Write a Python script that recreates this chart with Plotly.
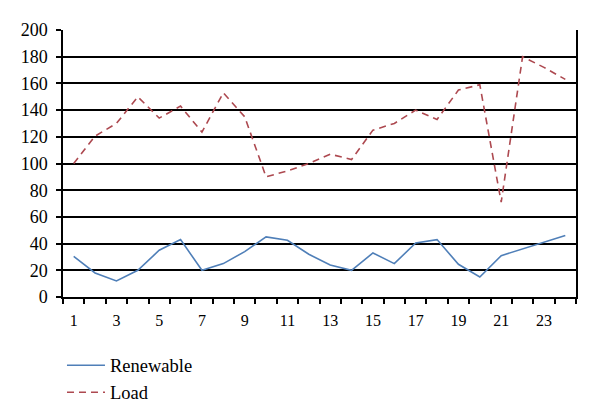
import plotly.graph_objects as go

hours = list(range(1, 25))
renewable = [30.5, 18, 12, 20, 35, 43, 20, 25, 34, 45, 42.5, 32, 24, 20, 33, 25, 40.5, 43, 24.5, 15, 31, 36, 40.5, 46]
load = [100, 120.5, 130, 150, 134, 143, 123.5, 153, 135, 90, 94.5, 100, 107, 103, 125, 130, 140, 133, 155, 159, 71, 180, 172, 163]
x_labels = [str(h) for h in range(1, 24, 2)]

font_family = "Liberation Serif"

fig = go.Figure()
fig.add_trace(go.Scatter(x=hours, y=renewable, mode="lines", name="Renewable",
                         line=dict(color="#4f7fb8", width=1.6)))
fig.add_trace(go.Scatter(x=hours, y=load, mode="lines", name="Load",
                         line=dict(color="#ad4950", width=1.6, dash="7px,5px")))

fig.update_layout(
    width=600, height=420,
    margin=dict(l=55, r=32, t=20, b=131),
    paper_bgcolor="white", plot_bgcolor="white",
    font=dict(family=font_family, size=16, color="black"),
    showlegend=True,
    legend=dict(orientation="v", x=-0.002, xanchor="left", y=-0.186, yanchor="top",
                font=dict(size=18.5, family=font_family), tracegroupgap=0,
                itemwidth=38, bgcolor="rgba(0,0,0,0)"),
    xaxis=dict(range=[0.5, 24.5], tickmode="array", tickvals=[int(t) for t in x_labels],
               ticktext=x_labels, ticks="", showgrid=False, zeroline=False,
               showline=True, linecolor="black", linewidth=1.5,
               tickfont=dict(size=16, family=font_family),
               minor=dict(tickmode="array", tickvals=[i + 0.5 for i in range(0, 25)],
                          ticks="outside", ticklen=5, tickcolor="black", tickwidth=1.5,
                          showgrid=False),
               ticklabelstandoff=8),
    yaxis=dict(range=[0, 200], dtick=20, ticks="outside", ticklen=5, tickcolor="black",
               tickwidth=1.5, showgrid=True, gridcolor="black", gridwidth=1.5,
               zeroline=False, showline=True, linecolor="black", linewidth=1.5,
               mirror=True, tickfont=dict(size=18, family=font_family),
               ticklabelstandoff=5),
)

fig.write_html("out.html")
